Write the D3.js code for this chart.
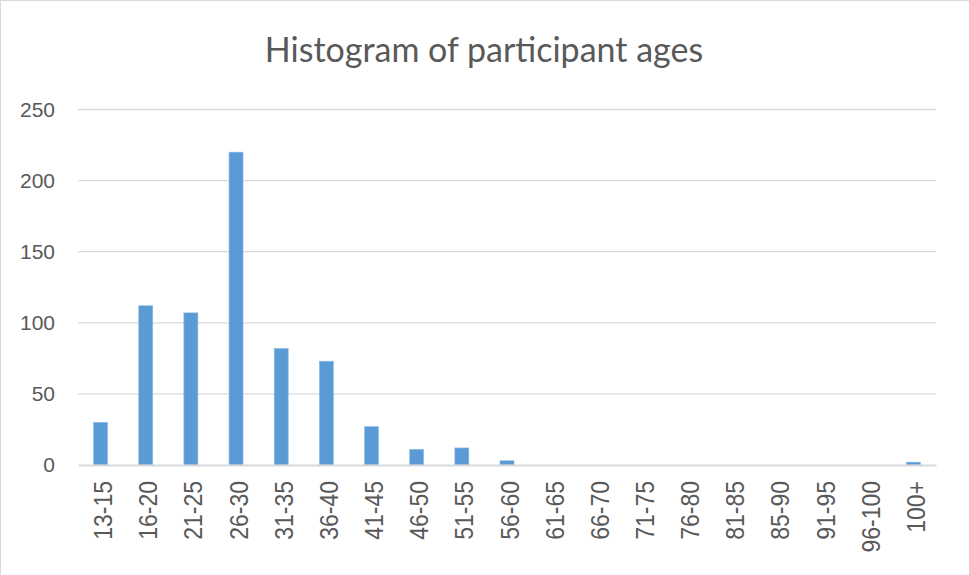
<!DOCTYPE html>
<html>
<head>
<meta charset="utf-8">
<script src="https://cdn.jsdelivr.net/npm/d3@7"></script>
<style>
  body { margin: 0; background: #fff; }
  .tick text { fill: #595959; }
</style>
</head>
<body>
<div class="histChart"></div>
<script>
// age buckets and participant counts
var ageGroups = ['13-15', '16-20', '21-25', '26-30', '31-35', '36-40', '41-45', '46-50', '51-55', '56-60',
  '61-65', '66-70', '71-75', '76-80', '81-85', '85-90', '91-95', '96-100', '100+'];
var counts = [30, 112, 107, 220, 82, 73, 27, 11, 12, 3, 0, 0, 0, 0, 0, 0, 0, 0, 2];
var yTicks = [0, 50, 100, 150, 200, 250];
var chartTitle = 'Histogram of participant ages';

var W = 969, H = 575;
var margin = { top: 109.5, right: 33, bottom: 110, left: 78 };
var width = W - margin.left - margin.right;
var height = H - margin.top - margin.bottom; // plot area

var svg = d3.select('.histChart')
  .append('svg')
    .attr('width', W)
    .attr('height', H);

// outer chart border (light grey)
svg.append('rect')
  .attr('x', 0.5).attr('y', 0.5)
  .attr('width', W + 10).attr('height', H + 10)
  .attr('fill', 'none')
  .attr('stroke', '#d9d9d9');

svg.append('text')
  .attr('x', 484)
  .attr('y', 62)
  .attr('text-anchor', 'middle')
  .style('font-family', 'Lato, "Open Sans", sans-serif')
  .style('font-size', '34px')
  .style('fill', '#595959')
  .text(chartTitle);

var g = svg.append('g')
  .attr('transform', 'translate(' + margin.left + ', ' + margin.top + ')');

var xScale = d3.scaleBand()
  .domain(ageGroups)
  .range([0, width])
  .paddingInner(0.69)
  .paddingOuter(0.345);

var yScale = d3.scaleLinear()
  .domain([0, 250])
  .range([height, 0]);

// gridlines
g.selectAll('.grid')
  .data(yTicks.slice(1))
  .enter()
  .append('line')
    .attr('class', 'grid')
    .attr('x1', 0)
    .attr('x2', width)
    .attr('y1', d => yScale(d))
    .attr('y2', d => yScale(d))
    .attr('stroke', '#d9d9d9')
    .attr('stroke-width', 1.3);

var yAxis = d3.axisLeft(yScale)
  .tickValues(yTicks)
  .tickSize(0)
  .tickPadding(23);
g.append('g')
  .call(yAxis)
  .call(a => a.select('.domain').remove())
  .selectAll('text')
    .style('font-family', '"Liberation Sans", Arial, sans-serif')
    .style('font-size', '21px');

g.selectAll('rect.bar')
  .data(counts)
  .enter()
  .append('rect')
    .attr('class', 'bar')
    .attr('x', (d, i) => xScale(ageGroups[i]))
    .attr('y', d => yScale(d))
    .attr('width', xScale.bandwidth())
    .attr('height', d => height - yScale(d))
    .attr('fill', '#5b9bd5')
    .attr('stroke', '#8fbbe4')
    .attr('stroke-width', 0.6);

var xAxis = d3.axisBottom(xScale)
  .tickSize(0)
  .tickPadding(0);
var xg = g.append('g')
  .attr('transform', `translate(0, ${height})`) //baseline of the plot
  .call(xAxis);
xg.select('.domain')
  .attr('stroke', '#d9d9d9')
  .attr('stroke-width', 2);
// rotated labels, slightly stretched like the original
xg.selectAll('text')
  .style('font-family', '"Liberation Sans", Arial, sans-serif')
  .style('font-size', '23px')
  .attr('text-anchor', 'end')
  .attr('dy', null)
  .attr('transform', 'translate(11.5, 16) rotate(-90) scale(1, 1.15)');
</script>
</body>
</html>
